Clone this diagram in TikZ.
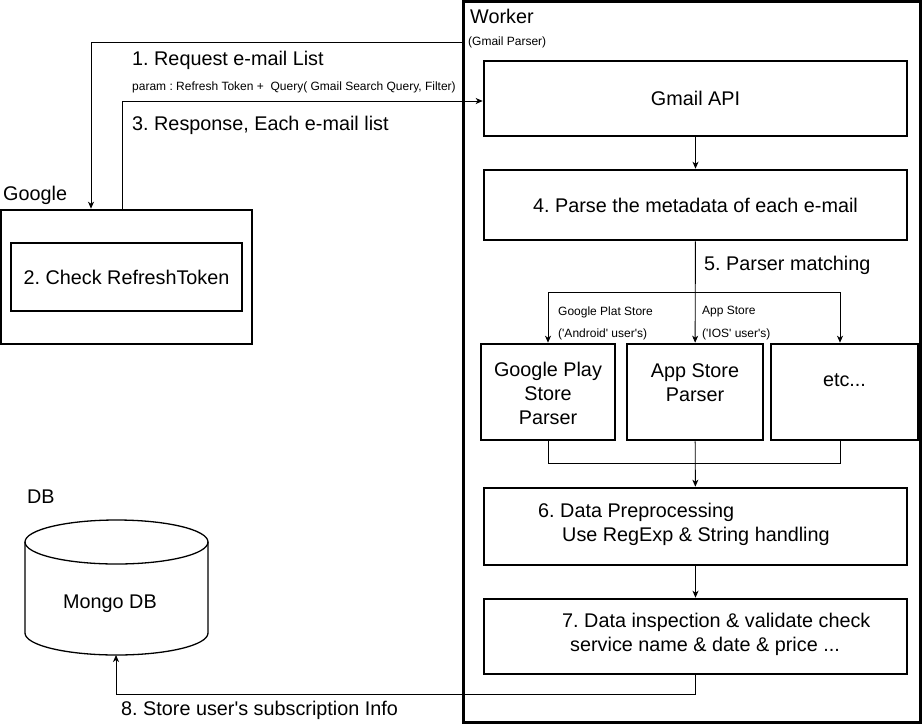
\documentclass[tikz,border=0pt]{standalone}
\usepackage{fontspec}
\setmainfont{Liberation Sans}
\usetikzlibrary{arrows.meta}
\frenchspacing
\newcommand{\sq}{\textquotesingle}

\begin{document}
\begin{tikzpicture}[x=1pt,y=-1pt,
  box/.style={draw,line width=2.6pt,inner sep=0pt},
  txt/.style={font=\fontsize{19.8}{24}\selectfont,inner sep=0pt},
  small/.style={font=\fontsize{12}{14}\selectfont,inner sep=0pt},
  conn/.style={line width=0.9pt},
  arr/.style={conn,-{Stealth[length=7pt,width=6pt,inset=2pt]}}]
\useasboundingbox (0,0) rectangle (923,726);

% worker frame
\node[box,line width=3pt,minimum width=457pt,minimum height=721pt] (worker) at (691.5,361.5) {};
\node[txt,anchor=west] (workerlbl) at (470,16) {Worker};
\node[small,anchor=west] (workersub) at (468,42) {(Gmail Parser)};

\node[box,minimum width=423pt,minimum height=75pt] (gmail) at (695.5,98.5) {};
\node[txt] (gmailtxt) at (695.5,98.5) {Gmail API};
\node[box,minimum width=423pt,minimum height=70pt] (parse) at (695.5,205) {};
\node[txt] (parsetxt) at (695.5,205) {4. Parse the metadata of each e-mail};

% parsers
\node[box,minimum width=134pt,minimum height=96pt] (gp) at (548,392) {};
\node[txt,align=center] (gptxt) at (548,393) {Google Play\\Store\\Parser};
\node[box,minimum width=136pt,minimum height=96pt] (asp) at (695,392) {};
\node[txt,align=center] (asptxt) at (695,383) {App Store\\Parser};
\node[box,minimum width=147pt,minimum height=96pt] (etc) at (844.5,392) {};
\node[txt] (etctxt) at (844.5,380) {etc...};

\node[box,minimum width=423pt,minimum height=77pt] (pre) at (695.5,526.5) {};
\node[txt,align=left,anchor=west] (pretxt) at (538,524) {6. Data Preprocessing\\\hspace*{24pt}Use RegExp \& String handling};
\node[box,minimum width=423pt,minimum height=75pt] (chk) at (695.5,636.5) {};
\node[txt,align=left,anchor=west] (chktxt) at (562,634) {7. Data inspection \& validate check\\\hspace*{8pt}service name \& date \& price ...};

% google
\node[txt,anchor=west] (googlelbl) at (3,195) {Google};
\node[box,minimum width=251pt,minimum height=134pt] (google) at (126.5,277) {};
\node[box,minimum width=231pt,minimum height=68pt] (token) at (126.5,277) {};
\node[txt] (tokentxt) at (126.5,277) {2. Check RefreshToken};

% db
\node[txt,anchor=west] (dblbl) at (27,497) {DB};
\draw[line width=1.3pt] (116.5,542) ellipse [x radius=91.5,y radius=22];
\draw[line width=1.3pt] (25,542) -- (25,633) arc[start angle=180,end angle=0,x radius=91.5,y radius=22] -- (208,542);
\coordinate (dbbot) at (116,655);
\node[txt] (mongo) at (110,604) {Mongo DB};

% connectors
\coordinate (req) at (463,42);
\draw[arr] (req) -| ([xshift=-35.5pt]google.north);
\draw[arr] ([xshift=-4.5pt]google.north) |- ([yshift=-2.5pt]gmail.west);
\node[txt,anchor=west] (lbl1) at (132,60) {1. Request e-mail List};
\node[small,anchor=west] (param) at (132,87) {param : Refresh Token +\ \ Query( Gmail Search Query, Filter)};
\node[txt,anchor=west] (lbl3) at (132,125) {3. Response, Each e-mail list};

\draw[arr] (gmail) -- (parse);
\draw[arr] (parse) -- (asp);
\node[txt,anchor=west] (lbl5) at (704,265) {5. Parser matching};
\coordinate (split) at (695,292);
\draw[arr] (split) -| (gp.north);
\draw[arr] (split) -| ([xshift=-4.5pt]etc.north);
\node[small,anchor=west] (gplbl) at (558,312) {Google Plat Store};
\node[small,anchor=west] (gpsub) at (558,334) {(\sq Android\sq\ user\sq s)};
\node[small,anchor=west] (aslbl) at (702,312) {App Store};
\node[small,anchor=west] (assub) at (702,334) {(\sq IOS\sq\ user\sq s)};

\coordinate (join) at (695,463);
\draw[conn] (gp.south) |- (join);
\draw[conn] ([xshift=-4.5pt]etc.south) |- (join);
\draw[arr] (asp) -- (pre);
\draw[arr] (pre) -- (chk);

\coordinate (store) at (116,694);
\draw[arr] (chk.south) |- (store) -- (dbbot);
\node[txt,anchor=west] (lbl8) at (121,710) {8. Store user\sq s subscription Info};
\end{tikzpicture}
\end{document}
